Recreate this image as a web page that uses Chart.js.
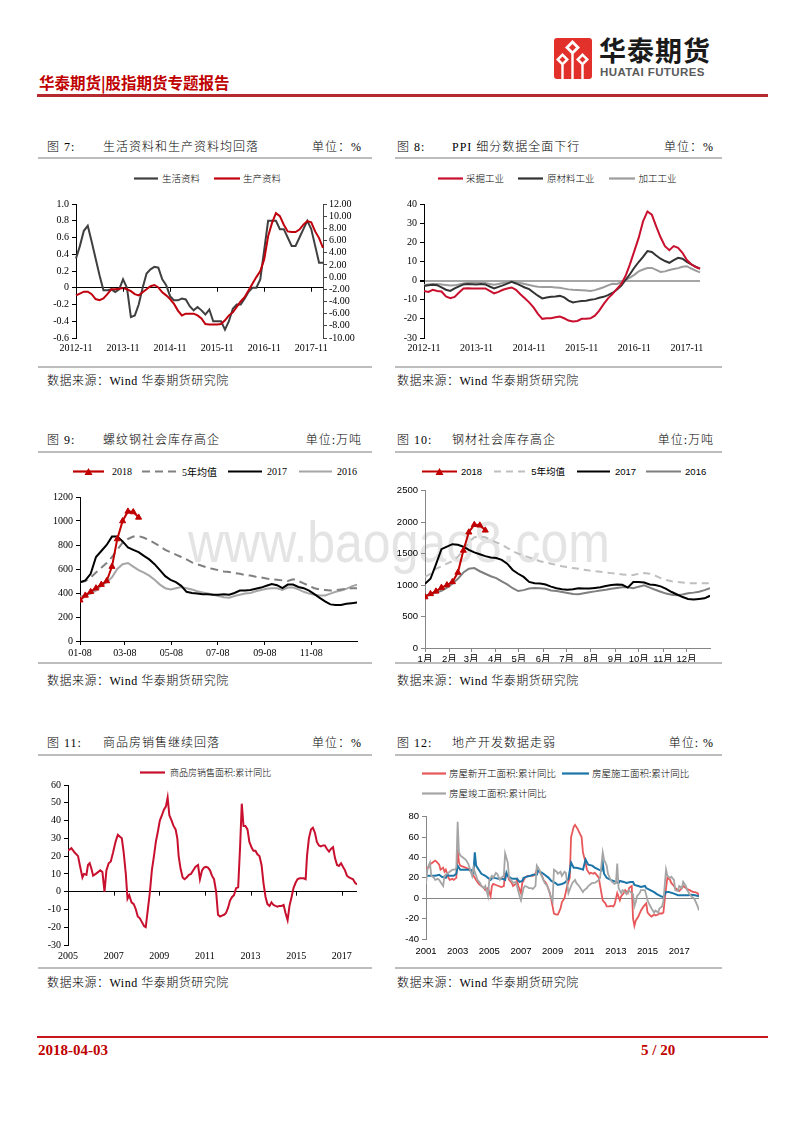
<!DOCTYPE html>
<html lang="zh-CN">
<head>
<meta charset="utf-8">
<title>股指期货专题报告 5/20</title>
<script src="https://cdn.jsdelivr.net/npm/chart.js"></script>
<style>
  html, body { margin: 0; padding: 0; background: #fff; }
  body { position: relative; width: 800px; height: 1132px; overflow: hidden;
         font-family: "Liberation Serif", "Noto Sans CJK SC", serif; color: #000; }
  .a { position: absolute; white-space: nowrap; }
  .ttl { font-size: 12px; line-height: 14px; letter-spacing: 1px; font-weight: 300; }
  .sep { height: 2px; background: #bdbdbd; }
  .src { font-size: 12px; line-height: 14px; letter-spacing: .5px; font-weight: 300; }
  .lg { display: flex; align-items: center; height: 12px; line-height: 12px; }
  .lg .it { display: flex; align-items: center; }
  canvas { position: absolute; }
  #wm { font-family: "Liberation Sans", sans-serif; font-size: 58px; color: #e4e4e4; transform-origin: 0 0; }
</style>
</head>
<body>

<!-- header -->
<svg class="a" style="left:554px;top:38px" width="38" height="41" viewBox="0 0 38 41">
  <rect width="38" height="41" rx="3" fill="#e2312b"/>
  <g fill="#fff">
    <polygon points="18.5,2 26,9.5 18.5,17 11,9.5"/>
    <polygon points="8.5,15 15,21.5 8.5,28 2,21.5"/>
    <polygon points="28.5,15 35,21.5 28.5,28 22,21.5"/>
    <rect x="17.3" y="16" width="2.4" height="25"/>
    <rect x="7.3" y="27" width="2.4" height="14"/>
    <rect x="27.3" y="27" width="2.4" height="14"/>
  </g>
  <g fill="#e2312b">
    <polygon points="18.5,6 22,9.5 18.5,13 15,9.5"/>
    <polygon points="8.5,18.5 11.5,21.5 8.5,24.5 5.5,21.5"/>
    <polygon points="28.5,18.5 31.5,21.5 28.5,24.5 25.5,21.5"/>
  </g>
</svg>
<div class="a" style="left:599px;top:34px;font:bold 27px 'Noto Sans CJK SC';letter-spacing:1px;line-height:32px;color:#1a1a1a">华泰期货</div>
<div class="a" style="left:600px;top:66px;font:bold 11.5px 'Liberation Sans';letter-spacing:.4px;line-height:13px;color:#5a5a5a">HUATAI FUTURES</div>
<div class="a" style="left:39px;top:72px;font:bold 15.5px 'Noto Sans CJK SC';color:#c00000;line-height:20px">华泰期货|股指期货专题报告</div>
<div class="a" style="left:37px;top:94px;width:731px;height:2.5px;background:#b42a2f"></div>

<div class="a" id="wm" style="left:188px;top:508px">www.baogao8.com</div>

<!-- row 1 -->
<div class="a ttl" style="left:47px;top:140px">图 7:</div>
<div class="a ttl" style="left:103px;top:140px">生活资料和生产资料均回落</div>
<div class="a ttl" style="right:438px;top:140px">单位：%</div>
<div class="a sep" style="left:38px;top:157px;width:334px"></div>
<div class="a ttl" style="left:397px;top:140px">图 8:</div>
<div class="a ttl" style="left:452px;top:140px">PPI 细分数据全面下行</div>
<div class="a ttl" style="right:86px;top:140px">单位：%</div>
<div class="a sep" style="left:395px;top:157px;width:327px"></div>

<div class="a lg" id="lg7" style="left:134px;top:172px"></div>
<div class="a lg" id="lg8" style="left:438px;top:172px"></div>
<canvas id="c7" width="330" height="165" style="left:40px;top:195px"></canvas>
<canvas id="c8" width="330" height="165" style="left:395px;top:195px"></canvas>

<div class="a sep" style="left:38px;top:366px;width:334px"></div>
<div class="a sep" style="left:395px;top:366px;width:327px"></div>
<div class="a src" style="left:47px;top:374px">数据来源：Wind 华泰期货研究院</div>
<div class="a src" style="left:397px;top:374px">数据来源：Wind 华泰期货研究院</div>

<!-- row 2 -->
<div class="a ttl" style="left:47px;top:433px">图 9:</div>
<div class="a ttl" style="left:103px;top:433px">螺纹钢社会库存高企</div>
<div class="a ttl" style="right:438px;top:433px">单位:万吨</div>
<div class="a sep" style="left:38px;top:451px;width:334px"></div>
<div class="a ttl" style="left:397px;top:433px">图 10:</div>
<div class="a ttl" style="left:452px;top:433px">钢材社会库存高企</div>
<div class="a ttl" style="right:86px;top:433px">单位:万吨</div>
<div class="a sep" style="left:395px;top:451px;width:327px"></div>

<div class="a lg" id="lg9" style="left:73px;top:465px"></div>
<div class="a lg" id="lg10" style="left:422px;top:465px"></div>
<canvas id="c9" width="330" height="180" style="left:40px;top:488px"></canvas>
<canvas id="c10" width="330" height="186" style="left:395px;top:482px"></canvas>

<div class="a sep" style="left:38px;top:662px;width:334px"></div>
<div class="a sep" style="left:395px;top:662px;width:327px"></div>
<div class="a src" style="left:47px;top:674px">数据来源：Wind 华泰期货研究院</div>
<div class="a src" style="left:397px;top:674px">数据来源：Wind 华泰期货研究院</div>

<!-- row 3 -->
<div class="a ttl" style="left:47px;top:736px">图 11:</div>
<div class="a ttl" style="left:103px;top:736px">商品房销售继续回落</div>
<div class="a ttl" style="right:438px;top:736px">单位：%</div>
<div class="a sep" style="left:38px;top:754px;width:334px"></div>
<div class="a ttl" style="left:397px;top:736px">图 12:</div>
<div class="a ttl" style="left:452px;top:736px">地产开发数据走弱</div>
<div class="a ttl" style="right:86px;top:736px">单位: %</div>
<div class="a sep" style="left:395px;top:754px;width:327px"></div>

<div class="a lg" id="lg11" style="left:140px;top:766px"></div>
<div class="a lg" id="lg12a" style="left:422px;top:767px"></div>
<div class="a lg" id="lg12b" style="left:422px;top:787px"></div>
<canvas id="c11" width="330" height="190" style="left:40px;top:776px"></canvas>
<canvas id="c12" width="330" height="158" style="left:395px;top:808px"></canvas>

<div class="a sep" style="left:38px;top:967px;width:334px"></div>
<div class="a sep" style="left:395px;top:967px;width:327px"></div>
<div class="a src" style="left:47px;top:976px">数据来源：Wind 华泰期货研究院</div>
<div class="a src" style="left:397px;top:976px">数据来源：Wind 华泰期货研究院</div>

<!-- footer -->
<div class="a" style="left:37px;top:1036px;width:731px;height:2px;background:#c8161d"></div>
<div class="a" style="left:38px;top:1041px;font:bold 15px 'Liberation Serif';color:#c00000;line-height:18px">2018-04-03</div>
<div class="a" style="left:641px;top:1041px;font:bold 15px 'Liberation Serif';color:#c00000;line-height:18px">5 / 20</div>

<script>
// ---------- data ----------
function monthLabels(y, m, n) {
    const out = [];
    for (let i = 0; i < n; i++) {
        out.push(y + '-' + m);
        m++;
        if (m > 12) { m = 1; y++; }
    }
    return out;
}

// 图7 2012-11 ~ 2018-02
const months7 = monthLabels(2012, 11, 64);
const consumer7 = [0.35,0.5,0.68,0.74,0.55,0.35,0.15,-0.03,-0.03,-0.02,-0.05,-0.02,0.1,0.0,-0.35,-0.33,-0.2,0.0,0.17,0.22,
    0.25,0.24,0.1,0.03,-0.1,-0.15,-0.15,-0.13,-0.14,-0.22,-0.27,-0.23,-0.27,-0.32,-0.26,-0.4,-0.4,-0.4,-0.5,-0.4,
    -0.25,-0.2,-0.2,-0.13,-0.05,0,0,0.1,0.45,0.8,0.8,0.8,0.7,0.7,0.6,0.5,0.5,0.6,0.7,0.8,0.7,0.5,0.3,0.3];
const producer7 = [-3.0,-2.7,-2.4,-2.4,-2.8,-3.6,-3.8,-3.5,-2.8,-2.0,-2.0,-1.9,-1.8,-2.0,-2.3,-2.8,-3.0,-2.5,-2.0,-1.5,
    -1.3,-1.7,-2.5,-3.0,-3.6,-4.4,-5.5,-6.3,-6.0,-6.0,-6.0,-6.3,-6.8,-7.7,-7.8,-7.8,-7.8,-7.7,-7.1,-6.3,
    -5.8,-4.9,-4.0,-3.3,-2.2,-1.1,0.0,1.0,2.9,6.7,8.9,10.5,10.0,8.6,7.5,7.4,7.4,7.8,8.6,9.2,9.0,7.5,6.4,4.8];

// 图8 PPI
const months8 = monthLabels(2012, 11, 64);
const mining8 = [-5.4,-5.9,-4.8,-5.4,-5.7,-8.3,-9.2,-8.5,-6.2,-4.1,-4.0,-4.1,-4.1,-4.1,-4.1,-5.4,-6.7,-5.9,-4.8,-4.1,
    -3.6,-4.8,-7.1,-9.2,-11.4,-14.0,-17.4,-20.0,-19.7,-19.7,-19.2,-18.8,-19.7,-20.9,-21.4,-21.1,-20.0,-20.0,-19.7,-18.3,
    -15.7,-12.3,-9.3,-7.1,-4.5,-1.9,2.4,8.5,15.4,22.3,30.9,36.1,34.4,28.3,22.6,18.0,15.9,18.0,17.1,14.5,10.7,8.5,7.1,6.2];
const raw8 = [-2.8,-2.5,-2.2,-2.4,-3.6,-4.8,-5.4,-4.1,-3.0,-2.0,-1.8,-1.9,-2.0,-1.8,-2.0,-3.1,-4.1,-3.3,-2.5,-1.6,
    -0.7,-1.5,-2.5,-3.6,-4.5,-6.2,-7.9,-9.3,-8.8,-8.5,-8.3,-8.0,-8.8,-10.5,-11.4,-11.0,-10.7,-10.5,-10.0,-9.7,
    -9.0,-8.5,-7.6,-6.5,-4.8,-2.8,0.3,3.3,6.7,9.7,12.4,15.4,14.9,13.1,11.4,10.2,9.3,10.7,11.9,11.4,9.7,8.5,7.3,6.2];
const proc8 = [-2.3,-2.0,-1.8,-1.8,-2.0,-2.3,-2.6,-2.5,-2.0,-1.5,-1.2,-1.0,-1.0,-1.0,-1.3,-1.8,-2.2,-1.8,-1.3,-0.6,
    -0.3,-0.6,-1.3,-1.8,-2.3,-2.8,-3.2,-3.4,-3.4,-3.4,-3.6,-3.8,-4.2,-4.6,-4.8,-4.9,-5.0,-5.2,-5.4,-5.0,
    -4.3,-3.5,-2.5,-1.7,-1.8,-1.0,0.3,1.5,3.0,4.8,5.8,6.6,6.6,5.6,4.5,4.8,5.5,6.0,6.5,7.2,7.5,6.3,5.2,4.3];

// 图9 螺纹钢 (weekly, days counted from 01-08)
const weekDays = Array.from({ length: 53 }, (_, i) => i * 7);
const tickDays9 = [0, 59, 120, 181, 243, 304];
const tickLabels9 = ['01-08', '03-08', '05-08', '07-08', '09-08', '11-08'];
const rebar2018 = [340,380,410,440,470,500,620,850,1000,1080,1075,1030];
const rebar5y = [490,500,530,570,610,650,700,760,820,850,870,875,860,840,815,790,760,740,720,700,
    680,655,640,625,610,600,590,580,575,565,560,550,545,535,530,520,515,510,505,500,
    515,500,480,460,440,430,425,420,425,430,435,440,440];
const rebar2017 = [490,505,560,700,750,800,870,870,830,780,760,740,710,680,640,590,540,510,490,460,
    410,400,395,390,390,385,385,390,385,400,420,420,425,435,445,460,475,465,440,470,
    470,450,440,420,390,360,330,305,300,300,310,315,320];
const rebar2016 = [370,380,395,420,460,490,530,600,640,650,620,590,570,545,510,470,440,430,440,450,
    440,430,415,405,395,385,375,365,360,375,385,395,400,415,425,435,440,440,425,445,
    445,430,410,395,385,380,380,395,410,420,435,455,470];

// 图10 钢材 (weekly, days counted from 1月1日)
const tickDays10 = [0, 31, 59, 90, 120, 151, 181, 212, 243, 273, 304, 334];
const tickLabels10 = ['1月','2月','3月','4月','5月','6月','7月','8月','9月','10月','11月','12月'];
const steel2018 = [810,860,900,960,1000,1050,1200,1550,1840,1960,1950,1870];
const steel5y = [1130,1180,1260,1300,1340,1380,1450,1550,1680,1760,1770,1760,1720,1680,1640,1590,1540,1500,1470,1440,
    1410,1380,1360,1340,1320,1300,1285,1270,1260,1245,1230,1220,1210,1200,1190,1180,1170,1160,1160,1180,
    1190,1180,1150,1110,1080,1060,1050,1040,1030,1030,1030,1030,1030];
const steel2017 = [1020,1100,1330,1570,1610,1650,1640,1610,1560,1520,1490,1460,1440,1430,1400,1340,1240,1180,1130,1050,
    1030,1025,1010,975,950,935,925,935,950,945,945,955,965,985,1000,1010,1005,960,1050,1050,
    1040,1010,1000,980,940,890,850,810,780,770,780,790,830];
const steel2016 = [840,850,880,910,960,1020,1100,1200,1260,1270,1220,1180,1140,1110,1060,1010,950,905,920,945,
    955,950,940,915,905,890,875,860,855,870,885,900,915,925,940,955,965,965,950,975,
    995,960,925,895,865,845,840,850,870,880,895,920,950];

// 图11 商品房销售面积:累计同比 (x = months since 2005-01)
const tickMonths11 = [0, 24, 48, 72, 96, 120, 144];
const tickLabels11 = ['2005','2007','2009','2011','2013','2015','2017'];
const month11 = [0,1.8,3.5,5.3,6.2,7.6,8.4,9.7,10.5,11.4,12.3,13.2,14.6,15.8,17.0,18.1,19.2,20.2,21.4,22.5,
    23.7,25.0,26.2,27.2,28.3,29.3,30.4,31.3,32.2,33.4,34.6,35.7,36.7,37.8,38.8,40.1,40.9,42.0,43.1,44.1,
    45.2,46.2,47.3,48.3,49.4,50.4,51.5,52.4,53.3,54.5,55.5,56.6,57.5,58.2,59.2,60.3,61.3,62.4,63.6,64.7,
    65.9,67.1,68.4,69.4,70.5,71.5,72.6,73.6,74.7,75.7,76.8,77.9,78.9,80.0,81.0,82.1,83.1,84.2,85.2,86.3,
    87.3,88.4,89.5,90.5,91.4,92.3,93.3,94.4,95.4,96.5,97.5,98.6,99.6,100.7,101.8,102.8,103.9,104.9,106.0,107.0,
    108.1,109.1,110.2,111.2,112.3,113.4,114.4,115.5,116.5,117.6,118.6,119.7,120.7,121.8,122.8,123.9,125.0,125.7,126.7,127.8,
    128.8,129.9,130.9,132.0,133.0,134.1,135.1,136.2,137.3,138.3,139.4,140.4,141.5,142.5,143.6,144.6,145.7,146.7,147.8,148.9,
    149.9,151.0,152.0];
const sales11 = [23,24.5,22,20,15,8,10,9.5,15,16,13,9,10,11,12,11,0,12,16,17,
    22,28,32,31,30,22,10,-4,-2,-6,-7,-10,-14,-15,-17,-19.5,-20,-10,0,12,
    20,28,34,40,43,46,48,53,43,40,37,35,30,20,13,8,7,8,9.5,10,
    12,14,15,7,12,13.5,14,13.5,12,9,7,0,-13,-14,-13.5,-13,-12,-9,-5,-3,
    -2,2,2.5,25,49.5,37,37,35,28,25,23,23,21,20,15,5,-3,-7,-8,-6,
    -7.5,-8,-8.5,-8,-8,-7.5,-12,-16,-8,-3,2,5,7,7.5,7.5,7.5,7,20,30,35,
    36,33,28,26,25.5,26,26,24,22.5,24,25,19,15,14.5,16,14,12,9,8,7.5,
    7,5,4];

// 图12 (x = months since 2001-01)
const tickMonths12 = [0, 24, 48, 72, 96, 120, 144, 168, 192];
const tickLabels12 = ['2001','2003','2005','2007','2009','2011','2013','2015','2017'];
const monthNew12 = [0,2,3,5,7,8,10,11,13,14,15,17,18,20,21,23,24,25,26,28,30,32,33,35,36,38,40,42,44,45,
    47,49,50,51,53,55,57,59,60,62,63,65,66,68,69,70,72,73,75,77,79,81,83,84,86,88,89,91,92,94,
    96,97,99,100,102,103,105,107,109,110,112,113,115,116,118,119,121,122,124,125,127,128,130,131,133,134,136,137,139,140,
    142,143,145,147,148,150,151,153,154,156,157,158,159,161,163,165,167,168,170,171,173,174,176,177,179,180,182,183,185,186,
    188,189,191,192,194,195,197,198,200,201,203,204,206,207];
const newStart12 = [30,30,33,35,37,36,33,28,30,26,28,20,18,19,18,20,48,35,32,31,30,29,28,24,22,18,14,12,10,8,
    10,2,12,14,13,12,11,12,24,22,18,15,12,14,18,12,5,15,20,22,22,22,24,28,26,22,18,15,12,5,
    -8,-15,-16,-16,-10,-4,0,12,20,60,70,72,68,65,60,45,35,28,24,25,24,25,22,20,5,-2,-5,-8,-8,-7.5,
    -8,-6,5,-2,2,5,8,5,10,12,-20,-27,-22,-18,-12,-8,-5,-14,-17,-18,-16,-17,-16,-15,-15,-14,10,20,18,15,
    12,10,8,7,10,12,10,9,8,7,6,6,5,2];
const monthCon12 = [0,2,5,7,10,12,15,16,18,21,23,24,26,27,30,32,34,36,37,38,40,42,45,47,49,51,52,55,58,60,
    61,62,64,66,69,71,73,74,76,79,81,84,85,88,90,93,95,98,100,103,105,108,110,112,114,117,119,121,123,126,
    128,131,133,134,135,137,140,142,144,146,147,150,152,155,157,158,161,163,166,167,170,173,175,178,180,182,184,187,189,191,
    194,196,199,201,204,207];
const underCon12 = [22,22,22,22,23,21,20,23,22,22,24,32,28,28,28,28,28,25,45,32,28,24,22,20,18,21,20,19,19,18,
    25,22,20,19,19,16,17,20,21,22,23,23,27,25,23,20,17,15,13,14,15,19,35,30,30,29,28,38,33,32,
    30,28,27,35,24,20,18,17,16,15,17,16,15,16,16,13,12,11,12,10,8,6,4,2,1,6,6,5,4,3,
    3,3,3,3.5,3,2];
const monthDone12 = [0,1,2,3,4,6,7,9,10,11,13,14,16,17,19,20,22,23,24,25,26,28,30,32,33,35,36,38,39,41,
    42,44,45,47,48,50,51,53,54,56,57,59,60,62,63,65,66,68,69,71,72,74,75,77,78,80,81,83,84,86,
    87,89,90,92,93,95,96,97,99,100,102,103,105,106,108,110,111,113,114,116,117,119,120,122,123,125,126,128,129,131,
    132,134,135,137,138,140,141,143,144,145,146,148,149,151,152,154,155,157,158,159,160,162,163,165,166,168,169,171,173,174,
    176,177,179,180,182,183,185,186,188,189,191,192,194,195,197,198,200,201,203,204,206,207];
const done12 = [14,28,32,35,22,20,18,19,18,16,12,22,24,25,27,28,28,30,75,45,42,40,38,34,30,22,30,22,18,15,
    12,10,12,2,18,22,20,25,24,18,20,22,44,35,20,17,15,16,12,2,-2,10,12,11,10,10,9,12,32,28,
    24,18,15,12,8,0,-3,28,26,24,26,22,26,25,5,12,15,18,15,12,10,6,8,10,12,14,15,15,16,18,
    20,45,38,32,24,18,16,14,15,34,10,5,8,6,4,8,6,4,-8,-4,2,5,8,8,8,-2,-5,-10,-14,-12,
    -14,-10,-8,-3,28,22,20,21,18,8,7,12,10,16,12,8,4,2,0,-2,-8,-12];

// ---------- helpers ----------
const serif10 = { family: 'Liberation Serif', size: 10 };
const sans10 = { family: "'Liberation Sans', 'Noto Sans CJK SC'", size: 9.5 };
const none = 'rgba(0,0,0,0)';
const plain = function (v) { return String(v); };

function pairs(xs, ys) { return xs.map((x, i) => ({ x: x, y: ys[i] })); }
function width(w) { return function (s) { s.width = w; }; }
function height(h) { return function (s) { s.height = h; }; }
function onlyZero(color) {
    return function (c) { return c.tick && Math.abs(c.tick.value) < 1e-9 ? color : none; };
}

// small tick marks hanging from the zero line
const zeroTicks = {
    id: 'zeroTicks',
    afterDatasetsDraw(chart, args, opts) {
        if (!opts.len) return;
        const x = chart.scales.x, y = chart.scales.y;
        const y0 = y.getPixelForValue(0);
        const ctx = chart.ctx;
        ctx.save();
        ctx.strokeStyle = opts.color || '#000';
        ctx.lineWidth = 1;
        x.ticks.forEach(function (t, i) {
            if (t.label === '' || t.label == null) return;
            const px = Math.round(x.getPixelForTick(i)) + 0.5;
            ctx.beginPath();
            ctx.moveTo(px, y0);
            ctx.lineTo(px, y0 + opts.len);
            ctx.stroke();
        });
        ctx.restore();
    }
};
Chart.register(zeroTicks);

function baseOptions(pad, scales, zt) {
    return {
        responsive: false,
        animation: false,
        layout: { padding: { top: pad.top, right: pad.right || 0, left: 0, bottom: 0 } },
        elements: { point: { radius: 0 }, line: { borderWidth: 2, tension: 0 } },
        plugins: { legend: { display: false }, tooltip: { enabled: false }, zeroTicks: zt || {} },
        scales: scales
    };
}

function legend(id, items, font) {
    const el = document.getElementById(id);
    el.innerHTML = items.map(function (it) {
        const w = it.w;
        let mark = '';
        if (it.tri) {
            mark = '<polygon points="' + (w / 2 - 4) + ',9 ' + (w / 2 + 4) + ',9 ' + (w / 2) + ',2" fill="' + it.color + '"/>';
        }
        const dash = it.dash ? ' stroke-dasharray="' + it.dash.join(',') + '"' : '';
        return '<span class="it" style="margin-right:' + it.gap + 'px">' +
            '<svg width="' + w + '" height="10" style="margin-right:' + it.tg + 'px">' +
            '<line x1="0" y1="5.5" x2="' + w + '" y2="5.5" stroke="' + it.color + '" stroke-width="2.2"' + dash + '/>' +
            mark + '</svg><span style="font:' + font + '">' + it.label + '</span></span>';
    }).join('');
}

// ---------- 图7 ----------
new Chart(document.getElementById('c7'), {
    type: 'line',
    data: {
        labels: months7,
        datasets: [
            { label: '生活资料', data: consumer7, borderColor: '#404040', yAxisID: 'y', order: 1 },
            { label: '生产资料', data: producer7, borderColor: '#c0000c', yAxisID: 'y2', order: 0 }
        ]
    },
    options: baseOptions({ top: 8 }, {
        x: {
            offset: false,
            ticks: { autoSkip: false, maxRotation: 0, padding: 4, font: serif10, color: '#000',
                callback: function (v, i) { return i % 12 === 0 ? months7[i] : ''; } },
            grid: { display: false, drawTicks: false },
            border: { display: false },
            afterFit: height(22)
        },
        y: {
            position: 'left', min: -0.6, max: 1,
            ticks: { stepSize: 0.2, autoSkip: false, padding: 3, font: serif10, color: '#000' },
            grid: { color: onlyZero('#000'), tickColor: '#000', tickLength: 4 },
            border: { color: '#000' },
            afterFit: width(36)
        },
        y2: {
            position: 'right', min: -10, max: 12,
            ticks: { stepSize: 2, autoSkip: false, padding: 2, font: serif10, color: '#000',
                callback: function (v) { return v.toFixed(2); } },
            grid: { drawOnChartArea: false, tickColor: '#444', tickLength: 4 },
            border: { color: '#444' },
            afterFit: width(47)
        }
    }, { len: 4, color: '#000' })
});
legend('lg7', [
    { label: '生活资料', color: '#404040', w: 24, tg: 4, gap: 14 },
    { label: '生产资料', color: '#c0000c', w: 26, tg: 3, gap: 0 }
], "300 9.5px 'Noto Sans CJK SC'");

// ---------- 图8 ----------
new Chart(document.getElementById('c8'), {
    type: 'line',
    data: {
        labels: months8,
        datasets: [
            { label: '采掘工业', data: mining8, borderColor: '#c8102e', order: 0 },
            { label: '原材料工业', data: raw8, borderColor: '#333333', order: 1 },
            { label: '加工工业', data: proc8, borderColor: '#9c9c9c', order: 2 }
        ]
    },
    options: baseOptions({ top: 8, right: 25 }, {
        x: {
            offset: false,
            ticks: { autoSkip: false, maxRotation: 0, padding: 4, font: serif10, color: '#000',
                callback: function (v, i) { return i % 12 === 0 ? months8[i] : ''; } },
            grid: { display: false, drawTicks: false },
            border: { display: false },
            afterFit: height(22)
        },
        y: {
            min: -30, max: 40,
            ticks: { stepSize: 10, autoSkip: false, padding: 3, font: serif10, color: '#000' },
            grid: { color: onlyZero('#a6a6a6'),
                lineWidth: function (c) { return c.tick && c.tick.value === 0 ? 2 : 1; },
                tickColor: '#000', tickLength: 4 },
            border: { color: '#000' },
            afterFit: width(29)
        }
    })
});
legend('lg8', [
    { label: '采掘工业', color: '#c8102e', w: 25, tg: 3, gap: 14 },
    { label: '原材料工业', color: '#333333', w: 25, tg: 4, gap: 14 },
    { label: '加工工业', color: '#9c9c9c', w: 26, tg: 4, gap: 0 }
], "300 9.5px 'Noto Sans CJK SC'");

// ---------- 图9 ----------
new Chart(document.getElementById('c9'), {
    type: 'line',
    data: {
        datasets: [
            { label: '2018', data: pairs(weekDays, rebar2018), borderColor: '#c00000', backgroundColor: '#c00000',
              pointStyle: 'triangle', pointRadius: 3.5, order: 0 },
            { label: '5年均值', data: pairs(weekDays, rebar5y), borderColor: '#808080', borderDash: [8, 5], order: 2 },
            { label: '2017', data: pairs(weekDays, rebar2017), borderColor: '#000000', order: 1 },
            { label: '2016', data: pairs(weekDays, rebar2016), borderColor: '#a6a6a6', order: 3 }
        ]
    },
    options: baseOptions({ top: 8, right: 13 }, {
        x: {
            type: 'linear', min: 0, max: 364,
            afterBuildTicks: function (s) { s.ticks = tickDays9.map(function (v) { return { value: v }; }); },
            ticks: { autoSkip: false, maxRotation: 0, padding: 2, font: serif10, color: '#000',
                callback: function (v) { return tickLabels9[tickDays9.indexOf(v)]; } },
            grid: { drawOnChartArea: false, tickColor: '#000', tickLength: 4 },
            border: { color: '#000' },
            afterFit: height(27)
        },
        y: {
            min: 0, max: 1200,
            ticks: { stepSize: 200, autoSkip: false, padding: 3, font: serif10, color: '#000', callback: plain },
            grid: { drawOnChartArea: false, tickColor: '#000', tickLength: 4 },
            border: { color: '#000' },
            afterFit: width(40)
        }
    })
});
legend('lg9', [
    { label: '2018', color: '#c00000', w: 31, tg: 8, gap: 10, tri: true },
    { label: '5年均值', color: '#808080', w: 35, tg: 5, gap: 11, dash: [8, 5] },
    { label: '2017', color: '#000000', w: 34, tg: 5, gap: 12 },
    { label: '2016', color: '#a6a6a6', w: 33, tg: 5, gap: 0 }
], "10px 'Liberation Serif', 'Noto Sans CJK SC'");

// ---------- 图10 ----------
new Chart(document.getElementById('c10'), {
    type: 'line',
    data: {
        datasets: [
            { label: '2018', data: pairs(weekDays, steel2018), borderColor: '#c00000', backgroundColor: '#c00000',
              pointStyle: 'triangle', pointRadius: 3.5, order: 0 },
            { label: '5年均值', data: pairs(weekDays, steel5y), borderColor: '#bfbfbf', borderDash: [7, 5], order: 2 },
            { label: '2017', data: pairs(weekDays, steel2017), borderColor: '#000000', order: 1 },
            { label: '2016', data: pairs(weekDays, steel2016), borderColor: '#7f7f7f', order: 3 }
        ]
    },
    options: baseOptions({ top: 8, right: 15 }, {
        x: {
            type: 'linear', min: 0, max: 364,
            afterBuildTicks: function (s) { s.ticks = tickDays10.map(function (v) { return { value: v }; }); },
            ticks: { autoSkip: false, maxRotation: 0, padding: 2, font: sans10, color: '#000',
                callback: function (v) { return tickLabels10[tickDays10.indexOf(v)]; } },
            grid: { drawOnChartArea: false, tickColor: '#868686', tickLength: 4 },
            border: { color: '#868686' },
            afterFit: height(20)
        },
        y: {
            min: 0, max: 2500,
            ticks: { stepSize: 500, autoSkip: false, padding: 3, font: sans10, color: '#000', callback: plain },
            grid: { drawOnChartArea: false, tickColor: '#868686', tickLength: 4 },
            border: { color: '#868686' },
            afterFit: width(30)
        }
    })
});
legend('lg10', [
    { label: '2018', color: '#c00000', w: 35, tg: 4, gap: 12, tri: true },
    { label: '5年均值', color: '#bfbfbf', w: 33, tg: 4, gap: 12, dash: [7, 5] },
    { label: '2017', color: '#000000', w: 33, tg: 5, gap: 10 },
    { label: '2016', color: '#7f7f7f', w: 35, tg: 4, gap: 0 }
], "9.5px 'Liberation Sans', 'Noto Sans CJK SC'");

// ---------- 图11 ----------
new Chart(document.getElementById('c11'), {
    type: 'line',
    data: {
        datasets: [
            { label: '商品房销售面积:累计同比', data: pairs(month11, sales11), borderColor: '#c8102e' }
        ]
    },
    options: baseOptions({ top: 8, right: 13 }, {
        x: {
            type: 'linear', min: 0, max: 152,
            afterBuildTicks: function (s) { s.ticks = tickMonths11.map(function (v) { return { value: v }; }); },
            ticks: { autoSkip: false, maxRotation: 0, padding: 5, font: serif10, color: '#000',
                callback: function (v) { return tickLabels11[tickMonths11.indexOf(v)]; } },
            grid: { display: false, drawTicks: false },
            border: { display: false },
            afterFit: height(21)
        },
        y: {
            min: -30, max: 60,
            ticks: { stepSize: 10, autoSkip: false, padding: 3, font: serif10, color: '#000' },
            grid: { color: onlyZero('#000'), tickColor: '#000', tickLength: 4 },
            border: { color: '#000' },
            afterFit: width(28)
        }
    }, { len: 4, color: '#000' })
});
legend('lg11', [
    { label: '商品房销售面积:累计同比', color: '#c8102e', w: 25, tg: 5, gap: 0 }
], "300 9px 'Noto Sans CJK SC'");

// ---------- 图12 ----------
new Chart(document.getElementById('c12'), {
    type: 'line',
    data: {
        datasets: [
            { label: '房屋新开工面积:累计同比', data: pairs(monthNew12, newStart12), borderColor: '#e8585a', borderWidth: 1.8, order: 2 },
            { label: '房屋施工面积:累计同比', data: pairs(monthCon12, underCon12), borderColor: '#1c75a8', borderWidth: 2, order: 1 },
            { label: '房屋竣工面积:累计同比', data: pairs(monthDone12, done12), borderColor: '#a5a5a5', borderWidth: 1.8, order: 0 }
        ]
    },
    options: baseOptions({ top: 8, right: 26 }, {
        x: {
            type: 'linear', min: 0, max: 207,
            afterBuildTicks: function (s) { s.ticks = tickMonths12.map(function (v) { return { value: v }; }); },
            ticks: { autoSkip: false, maxRotation: 0, padding: 7, font: sans10, color: '#000',
                callback: function (v) { return tickLabels12[tickMonths12.indexOf(v)]; } },
            grid: { display: false, drawTicks: false },
            border: { display: false },
            afterFit: height(27)
        },
        y: {
            min: -40, max: 80,
            ticks: { stepSize: 20, autoSkip: false, padding: 3, font: sans10, color: '#000' },
            grid: { color: onlyZero('#868686'), tickColor: '#868686', tickLength: 4 },
            border: { color: '#868686' },
            afterFit: width(31)
        }
    })
});
legend('lg12a', [
    { label: '房屋新开工面积:累计同比', color: '#e8585a', w: 24, tg: 3, gap: 6 },
    { label: '房屋施工面积:累计同比', color: '#1c75a8', w: 27, tg: 3, gap: 0 }
], "300 9.5px 'Noto Sans CJK SC'");
legend('lg12b', [
    { label: '房屋竣工面积:累计同比', color: '#a5a5a5', w: 24, tg: 3, gap: 0 }
], "300 9.5px 'Noto Sans CJK SC'");

// watermark: stretch to the width it has on the page
(function () {
    const wm = document.getElementById('wm');
    const w = wm.getBoundingClientRect().width;
    wm.style.transform = 'scaleX(' + (422 / w).toFixed(3) + ')';
})();
</script>
</body>
</html>
